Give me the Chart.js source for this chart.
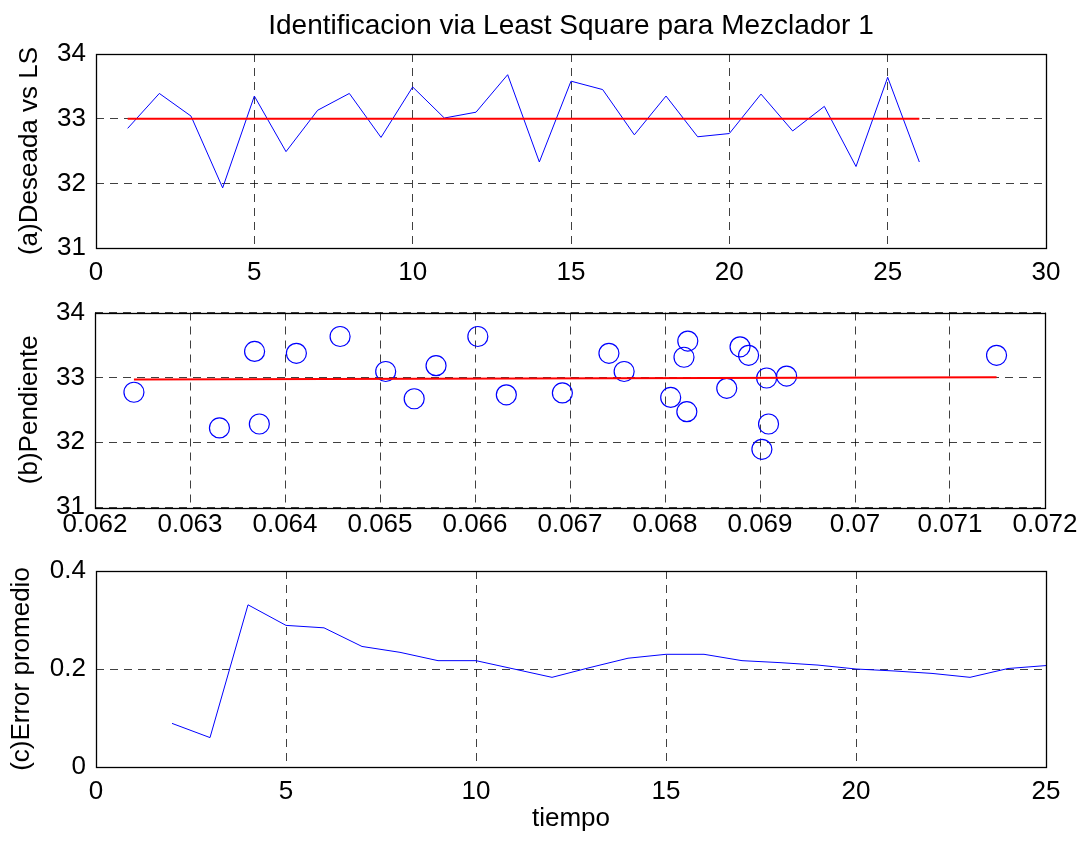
<!DOCTYPE html>
<html>
<head>
<meta charset="utf-8">
<script src="https://cdn.jsdelivr.net/npm/chart.js@4.4.1/dist/chart.umd.min.js"></script>
<style>
  body { margin:0; background:#fff; }
  #fondo { position:relative; width:1084px; height:844px; background:#fff; }
  canvas { position:absolute; left:0; }
</style>
</head>
<body>
<div id="fondo">
  <canvas id="graficaA" width="1084" height="290" style="top:0px"></canvas>
  <canvas id="graficaB" width="1084" height="260" style="top:290px"></canvas>
  <canvas id="graficaC" width="1084" height="294" style="top:550px"></canvas>
</div>
<script>
// (a) deseada vs LS
var tiempoA = [1,2,3,4,5,6,7,8,9,10,11,12,13,14,15,16,17,18,19,20,21,22,23,24,25,26];
var deseada = [32.85,33.39,33.04,31.93,33.35,32.49,33.13,33.39,32.71,33.49,33.01,33.10,33.68,32.33,33.58,33.45,32.75,33.35,32.72,32.77,33.38,32.81,33.19,32.26,33.64,32.33];
var salidaLS = [33,33,33,33,33,33,33,33,33,33,33,33,33,33,33,33,33,33,33,33,33,33,33,33,33,33];
var ticksXA = [0,5,10,15,20,25,30];
var ticksYA = [31,32,33,34];

// (b) pendiente
var pendiente = [0.06241,0.06331,0.06368,0.06373,0.06412,0.06458,0.06506,0.06536,0.06559,0.06603,0.06633,0.06692,0.06741,0.06757,0.06806,0.06824,0.06820,0.06823,0.06865,0.06879,0.06888,0.06907,0.06928,0.06909,0.06902,0.07149];
var salidaB = [32.77,32.22,33.40,32.28,33.37,33.63,33.09,32.67,33.18,33.63,32.73,32.76,33.37,33.09,32.69,33.56,33.31,32.47,32.83,33.47,33.34,32.99,33.02,32.28,31.89,33.34];
var ajusteX = [0.06241,0.07149];
var ajusteY = [32.965,33.003];
var ticksXB = [0.062,0.063,0.064,0.065,0.066,0.067,0.068,0.069,0.07,0.071,0.072];
var etiquetasXB = ["0.062","0.063","0.064","0.065","0.066","0.067","0.068","0.069","0.07","0.071","0.072"];
var ticksYB = [31,32,33,34];

// (c) error promedio
var tiempoC = [2,3,4,5,6,7,8,9,10,11,12,13,14,15,16,17,18,19,20,21,22,23,24,25];
var errorProm = [0.089,0.060,0.331,0.289,0.284,0.246,0.234,0.217,0.217,0.200,0.183,0.203,0.222,0.230,0.230,0.217,0.213,0.208,0.200,0.196,0.191,0.183,0.201,0.207];
var ticksXC = [0,5,10,15,20,25];
var ticksYC = [0,0.2,0.4];
var etiquetasYC = ["0","0.2","0.4"];

var letra = "'Liberation Sans', Arial, Helvetica, sans-serif";

function puntos(xs, ys){
  var r = [];
  for (let i = 0; i < xs.length; i++) r.push({x: xs[i], y: ys[i]});
  return r;
}

// caja negra alrededor del area
var marco = {
  id: "marco",
  afterDraw: function(chart){
    var a = chart.chartArea, ctx = chart.ctx;
    ctx.save();
    ctx.strokeStyle = "#000";
    ctx.lineWidth = 1.3;
    ctx.setLineDash([]);
    ctx.strokeRect(Math.round(a.left)+0.5, Math.round(a.top)+0.5, Math.round(a.right-a.left), Math.round(a.bottom-a.top));
    ctx.restore();
  }
};

function ejeX(min, max, valores, etiquetas, alto, pad, titulo, padTitulo){
  return {
    type: "linear", min: min, max: max,
    afterBuildTicks: function(s){ s.ticks = valores.map(v => ({value: v})); },
    afterFit: function(s){ s.height = alto; s.paddingLeft = 0; s.paddingRight = 0; },
    grid: { color: "rgba(0,0,0,0.75)", lineWidth: 1, drawTicks: false },
    border: { display: false, dash: [8,6] },
    ticks: {
      color: "#000", padding: pad, maxRotation: 0, autoSkip: false,
      font: { family: letra, size: 26 },
      callback: function(v, i){ return etiquetas ? etiquetas[i] : String(v); }
    },
    title: titulo ? { display: true, text: titulo, color: "#000", font: { family: letra, size: 26 }, padding: { top: 0, bottom: padTitulo } } : { display: false }
  };
}

function ejeY(min, max, valores, etiquetas, ancho, titulo, padTitulo){
  return {
    type: "linear", min: min, max: max,
    afterBuildTicks: function(s){ s.ticks = valores.map(v => ({value: v})); },
    afterFit: function(s){ s.width = ancho; s.paddingTop = 0; s.paddingBottom = 0; },
    grid: { color: "rgba(0,0,0,0.75)", lineWidth: 1, drawTicks: false },
    border: { display: false, dash: [8,6] },
    ticks: {
      color: "#000", padding: 10, autoSkip: false,
      font: { family: letra, size: 26 },
      callback: function(v, i){ return etiquetas ? etiquetas[i] : String(v); }
    },
    title: { display: true, text: titulo, color: "#000", font: { family: letra, size: 26 }, padding: { top: padTitulo, bottom: 0 } }
  };
}

var comunes = {
  responsive: false,
  animation: false,
  devicePixelRatio: 1,
  plugins: { legend: { display: false }, tooltip: { enabled: false } }
};

new Chart(document.getElementById("graficaA").getContext("2d"), {
  type: "scatter",
  data: {
    datasets: [
      { label: "Deseada", data: puntos(tiempoA, deseada), showLine: true, borderColor: "#0000ff", borderWidth: 1, pointRadius: 0, order: 2 },
      { label: "LS", data: puntos(tiempoA, salidaLS), showLine: true, borderColor: "#ff0000", borderWidth: 2, pointRadius: 0, order: 1 }
    ]
  },
  options: Object.assign({}, comunes, {
    layout: { padding: { left: 0, right: 38, top: 0, bottom: 0 } },
    plugins: {
      legend: { display: false }, tooltip: { enabled: false },
      title: { display: true, fullSize: false, text: "Identificacion via Least Square para Mezclador 1", color: "#000",
        font: { family: letra, size: 28, weight: "normal", lineHeight: 1.2 }, padding: { top: 9, bottom: 11.4 } }
    },
    scales: {
      x: ejeX(0, 30, ticksXA, null, 42, 9),
      y: ejeY(31, 34, ticksYA, null, 96, "(a)Deseada vs LS", 14)
    }
  }),
  plugins: [marco]
});

new Chart(document.getElementById("graficaB").getContext("2d"), {
  type: "scatter",
  data: {
    datasets: [
      { label: "Pendiente", data: puntos(pendiente, salidaB), showLine: false, borderColor: "#0000ff", backgroundColor: "rgba(0,0,0,0)", borderWidth: 1.2, pointRadius: 10, pointStyle: "circle", order: 2 },
      { label: "Ajuste", data: puntos(ajusteX, ajusteY), showLine: true, borderColor: "#ff0000", borderWidth: 2, pointRadius: 0, order: 1 }
    ]
  },
  options: Object.assign({}, comunes, {
    layout: { padding: { left: 0, right: 39, top: 22.5, bottom: 0 } },
    scales: {
      x: ejeX(0.062, 0.072, ticksXB, etiquetasXB, 43, 2),
      y: ejeY(31, 34, ticksYB, null, 95, "(b)Pendiente", 14)
    }
  }),
  plugins: [marco]
});

new Chart(document.getElementById("graficaC").getContext("2d"), {
  type: "scatter",
  data: {
    datasets: [
      { label: "Error", data: puntos(tiempoC, errorProm), showLine: true, borderColor: "#0000ff", borderWidth: 1, pointRadius: 0 }
    ]
  },
  options: Object.assign({}, comunes, {
    layout: { padding: { left: 0, right: 38, top: 21, bottom: 0 } },
    scales: {
      x: ejeX(0, 25, ticksXC, null, 77, 9, "tiempo", 10),
      y: ejeY(0, 0.4, ticksYC, etiquetasYC, 96, "(c)Error promedio", 6)
    }
  }),
  plugins: [marco]
});
</script>
</body>
</html>
